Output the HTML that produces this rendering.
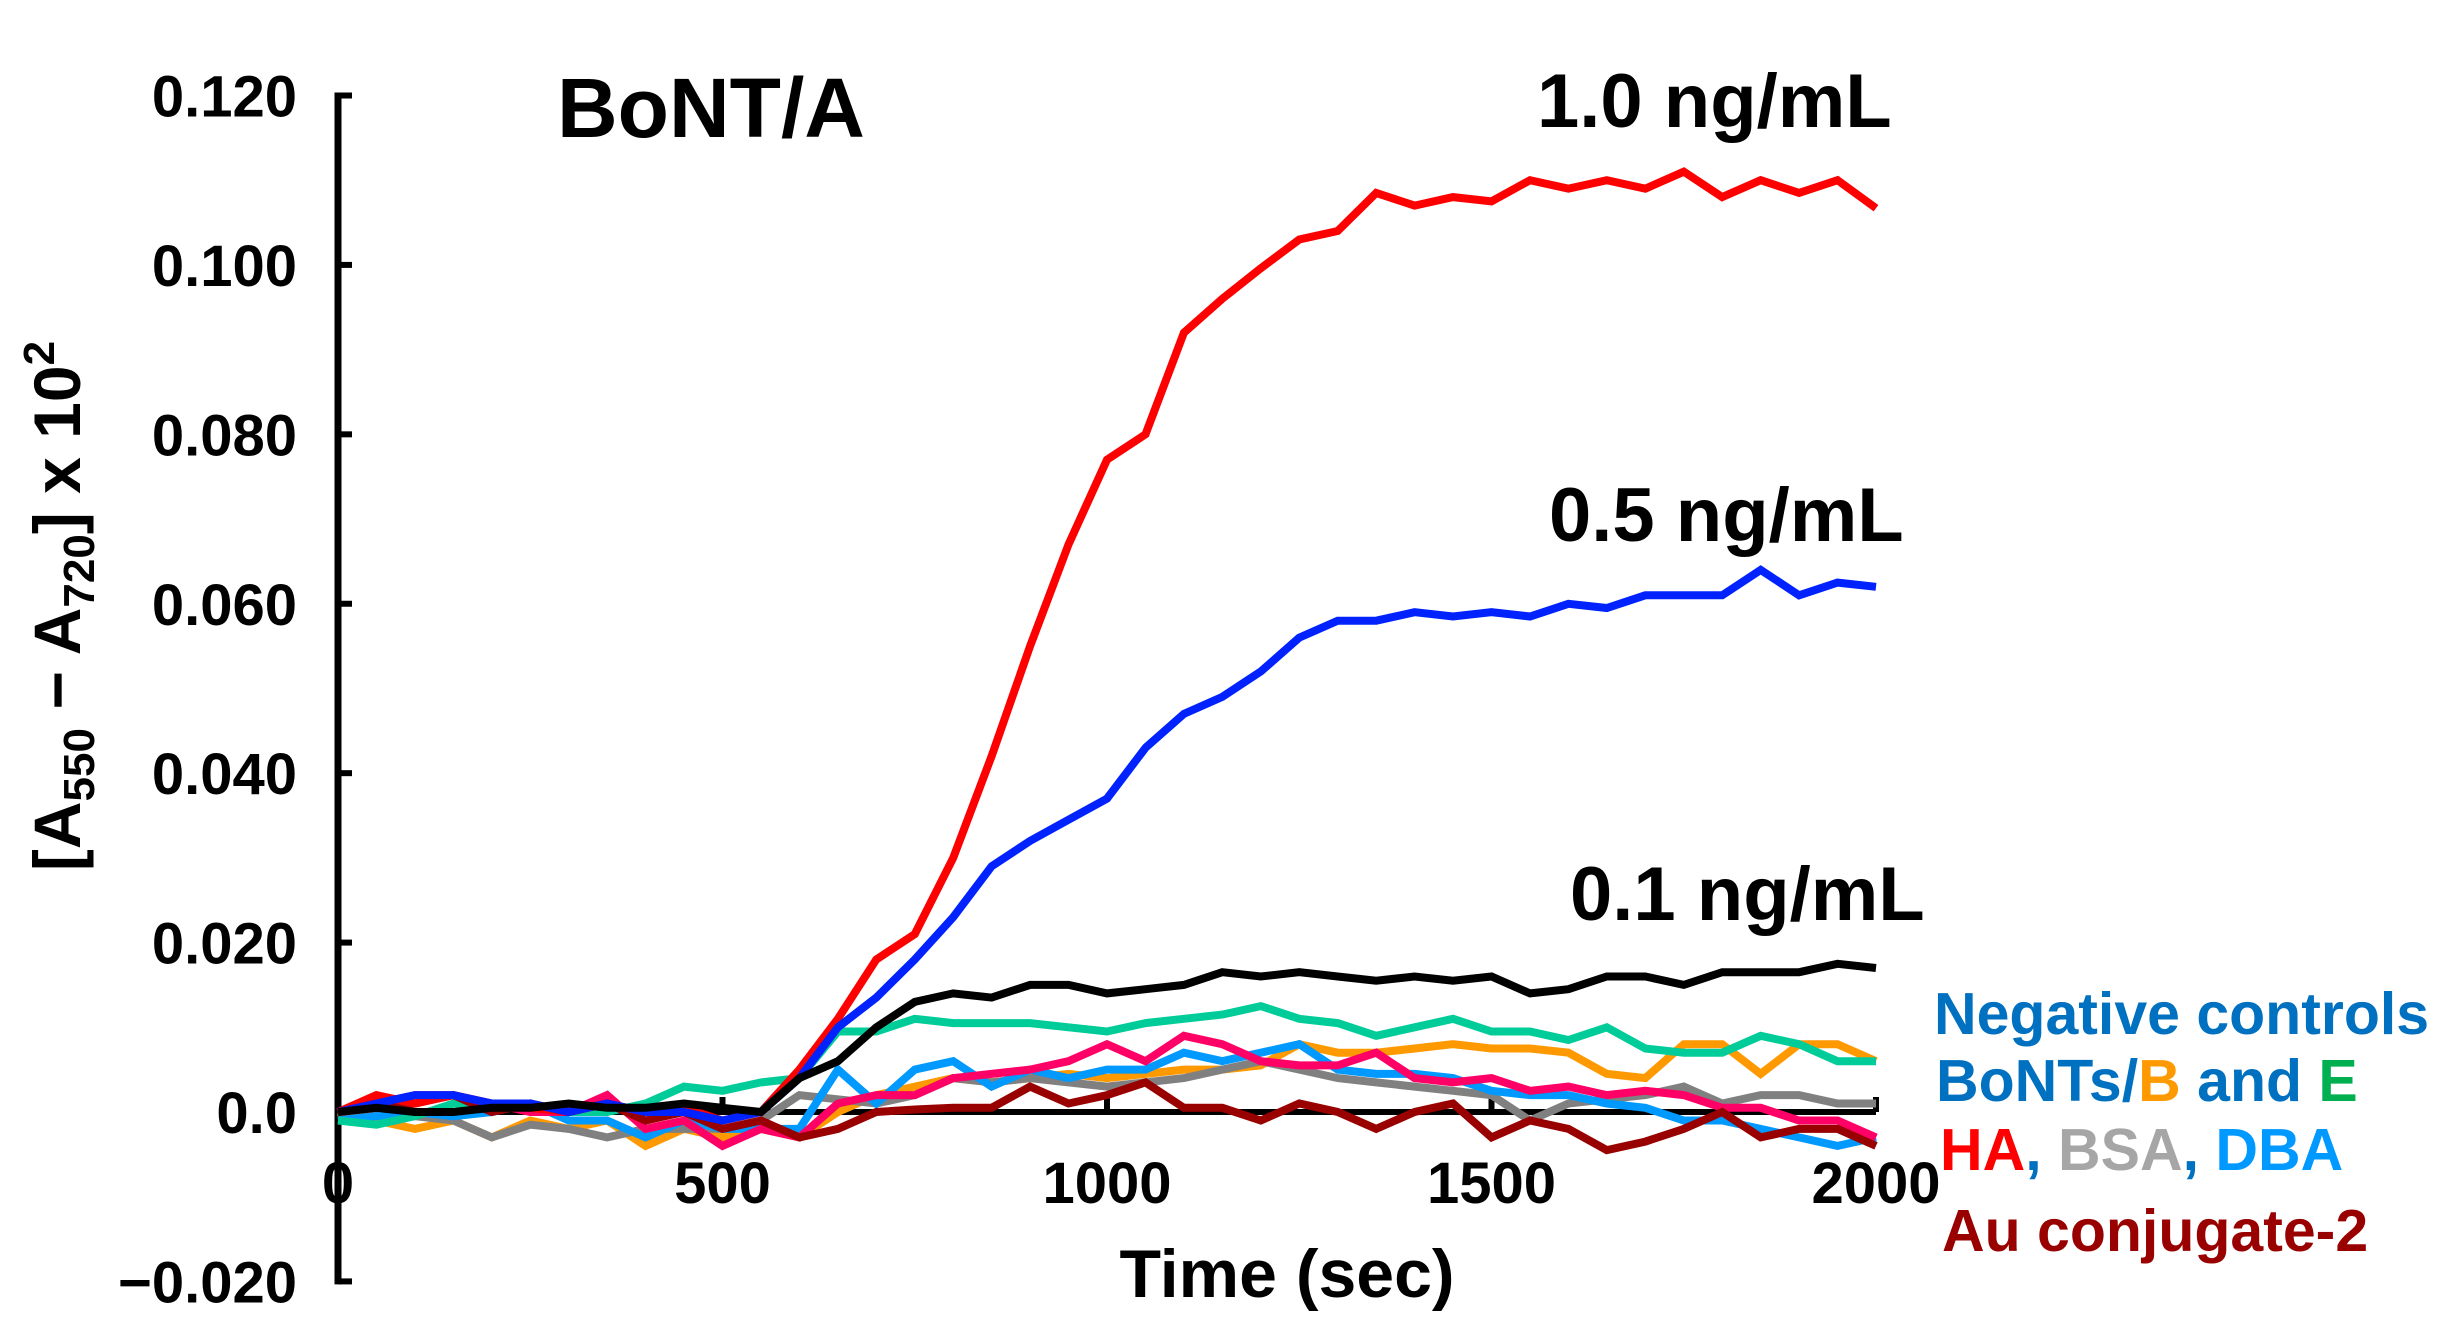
<!DOCTYPE html>
<html><head><meta charset="utf-8"><style>
html,body{margin:0;padding:0;background:#fff;}
svg{display:block;font-family:"Liberation Sans",Arial,sans-serif;font-weight:bold;}
</style></head><body>
<svg id="chart" width="2462" height="1342" viewBox="0 0 2462 1342" xmlns="http://www.w3.org/2000/svg">
<g id="axes"></g>
<g id="series"></g>
<text x="557" y="137" font-size="84">BoNT/A</text>
<text x="1537" y="127" font-size="76">1.0 ng/mL</text>
<text x="1549" y="541" font-size="76">0.5 ng/mL</text>
<text x="1570" y="920" font-size="76">0.1 ng/mL</text>
<text x="1287" y="1297" font-size="68" text-anchor="middle">Time (sec)</text>
<text transform="translate(80,606) rotate(-90)" font-size="66" text-anchor="middle">[A<tspan font-size="44" dy="14">550</tspan><tspan dy="-14"> − A</tspan><tspan font-size="44" dy="14">720</tspan><tspan dy="-14">] x 10</tspan><tspan font-size="44" dy="-26">2</tspan></text>
<g font-size="59">
<text x="1934" y="1034" fill="#0070C0">Negative controls</text>
<text x="1936" y="1101" fill="#0070C0">BoNTs/<tspan fill="#FF9900">B</tspan> and <tspan fill="#00B050">E</tspan></text>
<text x="1940" y="1170"><tspan fill="#FF0000">HA</tspan><tspan fill="#0070C0">, </tspan><tspan fill="#A6A6A6">BSA</tspan><tspan fill="#0070C0">, </tspan><tspan fill="#0099FF">DBA</tspan></text>
<text x="1942" y="1251" fill="#990000">Au conjugate-2</text>
</g>
</svg>
<script>
const times = [0,50,100,150,200,250,300,350,400,450,500,550,600,650,700,750,800,850,900,950,1000,1050,1100,1150,1200,1250,1300,1350,1400,1450,1500,1550,1600,1650,1700,1750,1800,1850,1900,1950,2000];
const red = [0,0.002,0.001,0.002,0.001,0.0005,0,0.001,0,0.0005,-0.001,0,0.005,0.011,0.018,0.021,0.030,0.042,0.055,0.067,0.077,0.080,0.092,0.096,0.0996,0.103,0.104,0.1085,0.107,0.108,0.1075,0.110,0.109,0.110,0.109,0.111,0.108,0.110,0.1085,0.110,0.1067];
const blue = [0,0.001,0.002,0.002,0.001,0.001,0,0.001,0,0,-0.001,0,0.004,0.010,0.0135,0.018,0.023,0.029,0.032,0.0345,0.037,0.043,0.047,0.049,0.052,0.056,0.058,0.058,0.059,0.0585,0.059,0.0585,0.060,0.0595,0.061,0.061,0.061,0.064,0.061,0.0625,0.062];
const black = [0,0.0005,0,0,0.0005,0.0005,0.001,0.0005,0.0005,0.001,0.0005,0,0.004,0.006,0.010,0.013,0.014,0.0135,0.015,0.015,0.014,0.0145,0.015,0.0165,0.016,0.0165,0.016,0.0155,0.016,0.0155,0.016,0.014,0.0145,0.016,0.016,0.015,0.0165,0.0165,0.0165,0.0175,0.017];
const teal = [-0.001,-0.0015,-0.0005,0.001,0.001,0.001,0,0,0.001,0.003,0.0025,0.0035,0.004,0.0095,0.0095,0.011,0.0105,0.0105,0.0105,0.010,0.0095,0.0105,0.011,0.0115,0.0125,0.011,0.0105,0.009,0.010,0.011,0.0095,0.0095,0.0085,0.010,0.0075,0.007,0.007,0.009,0.008,0.006,0.006];
const orange = [0,-0.001,-0.002,-0.001,-0.003,-0.001,-0.002,-0.001,-0.004,-0.002,-0.003,-0.002,-0.003,0,0.002,0.003,0.004,0.0035,0.004,0.0045,0.004,0.0045,0.005,0.005,0.0055,0.008,0.007,0.007,0.0075,0.008,0.0075,0.0075,0.007,0.0045,0.004,0.008,0.008,0.0045,0.008,0.008,0.006];
const gray = [0,-0.0005,-0.0005,-0.001,-0.003,-0.0015,-0.002,-0.003,-0.002,-0.002,-0.002,-0.001,0.002,0.0015,0.001,0.002,0.004,0.0035,0.004,0.0035,0.003,0.0035,0.004,0.005,0.006,0.005,0.004,0.0035,0.003,0.0025,0.002,-0.001,0.001,0.0015,0.002,0.003,0.001,0.002,0.002,0.001,0.001];
const ltblue = [-0.001,-0.0005,0,-0.0005,0,0.001,-0.001,-0.001,-0.003,-0.001,-0.002,-0.002,-0.002,0.005,0.001,0.005,0.006,0.003,0.005,0.004,0.005,0.005,0.007,0.006,0.007,0.008,0.005,0.0045,0.0045,0.004,0.0025,0.002,0.002,0.001,0.0005,-0.001,-0.001,-0.002,-0.003,-0.004,-0.003];
const pink = [0,0.001,0.002,0.002,0.001,0,0,0.002,-0.002,-0.001,-0.004,-0.002,-0.003,0.001,0.002,0.002,0.004,0.0045,0.005,0.006,0.008,0.006,0.009,0.008,0.006,0.0055,0.0055,0.007,0.004,0.0035,0.004,0.0025,0.003,0.002,0.0025,0.002,0.0005,0.0005,-0.001,-0.001,-0.003];
const darkred = [0,0.0005,0.001,0.002,0,0.001,0,0.001,-0.001,0,-0.002,-0.001,-0.003,-0.002,0,0.0003,0.0005,0.0005,0.003,0.001,0.002,0.0035,0.0005,0.0005,-0.001,0.001,0,-0.002,0,0.001,-0.003,-0.001,-0.002,-0.0045,-0.0035,-0.002,0,-0.003,-0.002,-0.002,-0.004];
const yTicks = [0.12,0.1,0.08,0.06,0.04,0.02,0,-0.02];
const yTickLabels = ["0.120","0.100","0.080","0.060","0.040","0.020","0.0","\u22120.020"];
const xTicks = [0,500,1000,1500,2000];
const xTickLabels = ["0","500","1000","1500","2000"];

const NS = "http://www.w3.org/2000/svg";
const X0 = 338, X1 = 1876, YZ = 1112, YT = 95.5;
function xs(t){ return X0 + (t/2000)*(X1-X0); }
function ys(v){ return YZ - (v/0.12)*(YZ-YT); }
function mk(tag, attrs, parent){ const e=document.createElementNS(NS,tag); for(const k in attrs) e.setAttribute(k,attrs[k]); parent.appendChild(e); return e; }
const axes = document.getElementById('axes');
const sg = document.getElementById('series');

const order = [
 ['series-orange', orange, '#FF9900'],
 ['series-gray', gray, '#808080'],
 ['series-light-blue', ltblue, '#0099FF'],
 ['series-teal', teal, '#00CC99'],
 ['series-pink', pink, '#FF0066'],
 ['series-dark-red', darkred, '#990000'],
 ['series-red-1-0', red, '#FF0000'],
 ['series-blue-0-5', blue, '#0022FF'],
 ['series-black-0-1', black, '#000000']
];

const zl = mk('line',{x1:X0,x2:X1,y1:ys(0),y2:ys(0),stroke:'#000','stroke-width':6},axes);


const ya = mk('line',{x1:X0,x2:X0,y1:ys(0.12)-3,y2:ys(-0.02)+3,stroke:'#000','stroke-width':7},axes);


yTicks.forEach((v,i)=>{
  const tk = mk('line',{x1:X0,x2:X0+14,y1:ys(v),y2:ys(v),stroke:'#000','stroke-width':6},axes);
  
  
  const tl = mk('text',{x:297,y:ys(v)+21,'font-size':58,'text-anchor':'end'},axes);
  
  
  tl.textContent = yTickLabels[i];
});
xTicks.forEach((t,i)=>{
  const tk = mk('line',{x1:xs(t),x2:xs(t),y1:ys(0),y2:ys(0)-15,stroke:'#000','stroke-width':6},axes);
  
  
  const tl = mk('text',{x:xs(t),y:1203,'font-size':58,'text-anchor':'middle'},axes);
  
  
  tl.textContent = xTickLabels[i];
});
order.forEach(s=>{
  const pts = s[1].map((v,i)=>xs(times[i]).toFixed(1)+','+ys(v).toFixed(1)).join(' ');
  const pl = mk('polyline',{points:pts,fill:'none',stroke:s[2],'stroke-width':8,'stroke-linejoin':'miter'},sg);
  
  
});
</script>
</body></html>
